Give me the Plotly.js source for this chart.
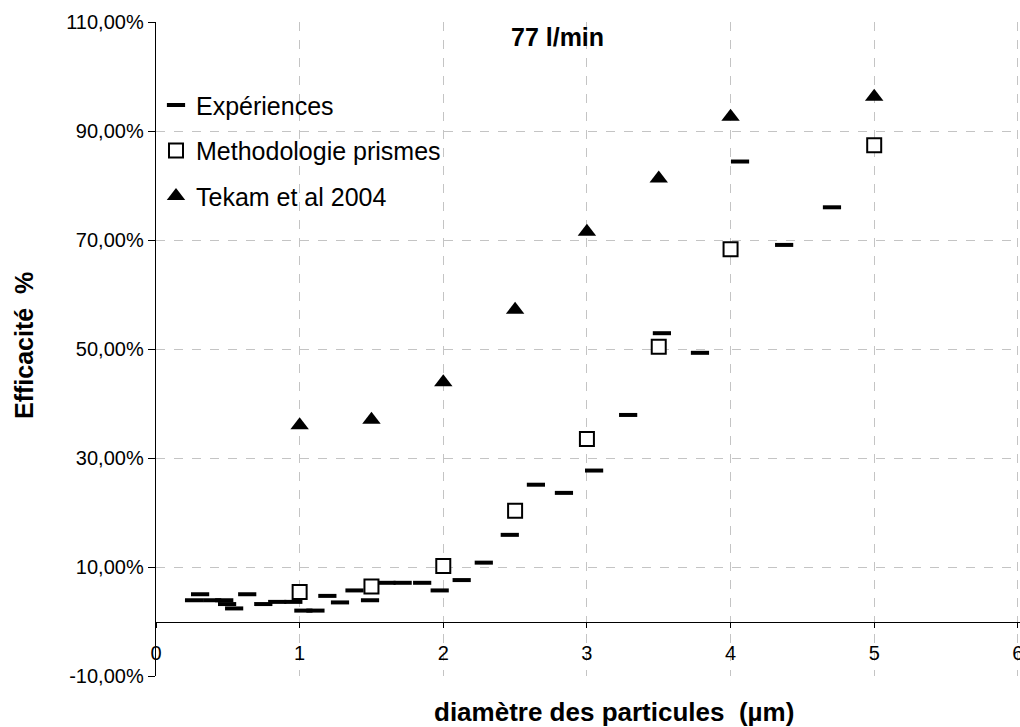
<!DOCTYPE html>
<html>
<head>
<meta charset="utf-8">
<script src="https://cdn.plot.ly/plotly-3.0.1.min.js"></script>
<style>html,body{margin:0;padding:0;background:#fff;}#chart{width:1020px;height:727px;}</style>
</head>
<body>
<div id="chart"></div>
<script>
// Expériences
const expX = [0.265, 0.307, 0.391, 0.475, 0.495, 0.544, 0.635, 0.747, 0.844, 0.956,
              1.026, 1.110, 1.193, 1.281, 1.382, 1.490, 1.605, 1.717, 1.853, 1.975,
              2.128, 2.282, 2.463, 2.645, 2.840, 3.050, 3.287, 3.522, 3.787, 4.066,
              4.373, 4.706];
const expY = [3.9, 5.0, 3.9, 3.9, 3.2, 2.4, 5.0, 3.2, 3.6, 3.6,
              2.0, 2.0, 4.7, 3.5, 5.7, 3.9, 7.1, 7.1, 7.1, 5.7,
              7.6, 10.8, 15.9, 25.1, 23.6, 27.7, 37.9, 52.9, 49.3, 84.4,
              69.1, 76.0];
// Methodologie prismes
const methX = [1, 1.5, 2, 2.5, 3, 3.5, 4, 5];
const methY = [5.4, 6.4, 10.2, 20.3, 33.5, 50.4, 68.3, 87.4];
// Tekam et al 2004
const tekX = [1, 1.5, 2, 2.5, 3, 3.5, 4, 5];
const tekY = [36.0, 37.0, 43.9, 57.2, 71.5, 81.3, 92.6, 96.3];

const yTickVals = [-10, 10, 30, 50, 70, 90, 110];
const yTickText = ["-10,00%", "10,00%", "30,00%", "50,00%", "70,00%", "90,00%", "110,00%"];
const xTickVals = [0, 1, 2, 3, 4, 5, 6];
const xTickText = ["0", "1", "2", "3", "4", "5", "6"];

const FONT = "Liberation Sans, Arial, sans-serif";

const traces = [
  {
    x: expX, y: expY, type: "scatter", mode: "markers", name: "Expériences",
    legendgroup: "a",
    marker: { symbol: "line-ew", size: 13, color: "#000", line: { color: "#000", width: 4 } }
  },
  {
    x: methX, y: methY, type: "scatter", mode: "markers", name: "Methodologie prismes",
    legendgroup: "b",
    marker: { symbol: "square", size: 14, color: "#fff", line: { color: "#000", width: 2 } }
  },
  {
    x: tekX, y: tekY, type: "scatter", mode: "markers", name: "Tekam et al 2004",
    legendgroup: "c",
    marker: { symbol: "triangle-up", size: 16, color: "#000", line: { width: 0 } }
  }
];

const layout = {
  width: 1020, height: 727,
  margin: { l: 156, r: 0, t: 22, b: 51, pad: 0 },
  paper_bgcolor: "#fff", plot_bgcolor: "#fff",
  font: { family: FONT, color: "#000" },
  showlegend: true,
  legend: {
    x: 0.0, y: 0.908, xanchor: "left", yanchor: "top",
    bgcolor: "rgba(0,0,0,0)", borderwidth: 0,
    font: { family: FONT, size: 25, color: "#000" },
    tracegroupgap: 10, traceorder: "grouped"
  },
  xaxis: {
    range: [0, 6.015], tickvals: xTickVals, ticktext: xTickText,
    anchor: "free", position: 10 / 120,
    showline: true, linecolor: "#000", linewidth: 1.3,
    ticks: "outside", ticklen: 5, tickcolor: "#000", tickwidth: 1,
    ticklabelstandoff: 8, ticklabeloverflow: "allow",
    tickfont: { family: FONT, size: 20, color: "#000" },
    showgrid: true, gridcolor: "#c4c4c4", griddash: "dash", gridwidth: 1,
    zeroline: false, fixedrange: true
  },
  yaxis: {
    range: [-10, 110], tickvals: yTickVals, ticktext: yTickText,
    showline: true, linecolor: "#000", linewidth: 1.3,
    ticks: "outside", ticklen: 7, tickcolor: "#000", tickwidth: 1,
    tickfont: { family: FONT, size: 20, color: "#000" },
    showgrid: true, gridcolor: "#c4c4c4", griddash: "dash", gridwidth: 1,
    zeroline: false, fixedrange: true
  },
  annotations: [
    {
      text: "<b>77 l/min</b>", xref: "paper", yref: "paper",
      x: (557 - 156) / 864, y: 1 - (37 - 22) / 654, xanchor: "center", yanchor: "middle",
      showarrow: false, font: { family: FONT, size: 25, color: "#000" }
    },
    {
      text: "<b>diamètre des particules  (µm)</b>", xref: "paper", yref: "paper",
      x: (614 - 156) / 864, y: (676 - 712) / 654, xanchor: "center", yanchor: "middle",
      showarrow: false, font: { family: FONT, size: 26, color: "#000" }
    },
    {
      text: "<b>Efficacité  %</b>", xref: "paper", yref: "paper",
      x: (24 - 156) / 864, y: 1 - (346 - 22) / 654, xanchor: "center", yanchor: "middle",
      textangle: -90,
      showarrow: false, font: { family: FONT, size: 25, color: "#000" }
    }
  ]
};

Plotly.newPlot("chart", traces, layout, { displayModeBar: false, staticPlot: true });
</script>
</body>
</html>
